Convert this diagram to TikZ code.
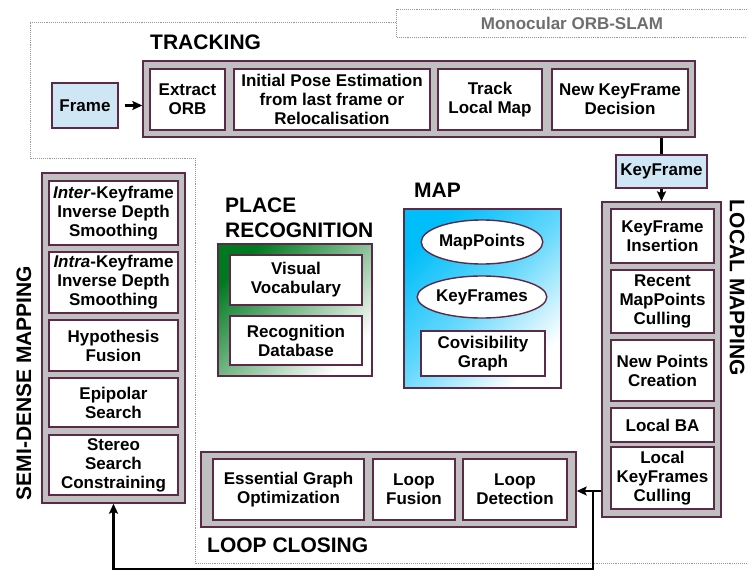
\documentclass[tikz,border=0pt]{standalone}
\usepackage{fontspec}
\setmainfont{Liberation Sans}
\usetikzlibrary{arrows.meta,shapes.geometric,calc}
\definecolor{bord}{RGB}{92,42,72}
\definecolor{boxgray}{RGB}{192,192,192}
\definecolor{framebl}{RGB}{207,231,245}
\definecolor{pgreen}{RGB}{0,122,32}
\definecolor{mapcyan}{RGB}{0,190,250}
\definecolor{dotgray}{RGB}{150,150,150}
\definecolor{txtgray}{RGB}{110,110,110}
\begin{document}
\begin{tikzpicture}[x=1pt,y=-1pt,
  gbox/.style={draw=bord, fill=boxgray, line width=1.4pt, inner sep=0pt},
  wbox/.style={draw=bord, fill=white, line width=1.4pt, inner sep=1pt, align=center,
     font=\fontsize{17}{19}\selectfont\bfseries},
  ttl/.style={font=\fontsize{21}{25}\selectfont\bfseries, inner sep=0pt},
  arr/.style={line width=2.5pt, -{Stealth[length=10pt,width=9pt,inset=2pt]}},
  ln/.style={line width=2.5pt},
  dots/.style={draw=dotgray, densely dotted, line width=0.9pt}
]
\useasboundingbox (0,0) rectangle (747,570);

% outline of ORB-SLAM
\draw[dots] (396,22) -- (30,22) -- (30,158) -- (195,158) -- (195,563) -- (747,563);
\draw[dots] (747,9) -- (396,9) -- (396,37) -- (747,37);
\node[font=\fontsize{17}{19}\selectfont\bfseries, text=txtgray] (mono) at (572,23) {Monocular ORB-SLAM};

% TRACKING
\node[ttl, anchor=west] (ttrack) at (150,42) {TRACKING};
\node[gbox, minimum width=552pt, minimum height=76pt] (track) at (419,99) {};
\node[wbox, minimum width=75pt, minimum height=61pt] (orb) at (187.5,99.5) {Extract\\ORB};
\node[wbox, minimum width=196pt, minimum height=61pt] (pose) at (332,99.5) {Initial Pose Estimation\\from last frame or\\Relocalisation};
\node[wbox, minimum width=104pt, minimum height=61pt] (tlm) at (490,99.5) {Track\\Local Map};
\node[wbox, minimum width=136pt, minimum height=61pt] (nkd) at (620,99.5) {New KeyFrame\\Decision};
\node[wbox, fill=framebl, minimum width=66pt, minimum height=45pt] (frame) at (85,105.5) {Frame};
\node[wbox, fill=framebl, minimum width=91pt, minimum height=33pt] (kf) at (661.5,171.5) {KeyFrame};

% LOCAL MAPPING
\node[gbox, minimum width=119pt, minimum height=315pt] (lm) at (661.5,359.5) {};
\node[wbox, minimum width=103pt, minimum height=54pt] (kfi) at (662.5,236) {KeyFrame\\Insertion};
\node[wbox, minimum width=103pt, minimum height=63pt] (rmc) at (662.5,301.5) {Recent\\MapPoints\\Culling};
\node[wbox, minimum width=103pt, minimum height=61pt] (npc) at (662.5,370.5) {New Points\\Creation};
\node[wbox, minimum width=103pt, minimum height=34pt] (lba) at (662.5,425) {Local BA};
\node[wbox, minimum width=103pt, minimum height=62pt] (lkc) at (662.5,478) {Local\\KeyFrames\\Culling};
\node[ttl, rotate=-90] (tlm2) at (737,288) {LOCAL MAPPING};

% SEMI-DENSE MAPPING
\node[gbox, minimum width=143pt, minimum height=330pt] (semi) at (113.5,338) {};
\node[wbox, minimum width=129pt, minimum height=64pt] (inter) at (113.5,213) {\textit{Inter}-Keyframe\\Inverse Depth\\Smoothing};
\node[wbox, minimum width=129pt, minimum height=61pt] (intra) at (113.5,282.5) {\textit{Intra}-Keyframe\\Inverse Depth\\Smoothing};
\node[wbox, minimum width=129pt, minimum height=51pt] (hyp) at (113.5,345.5) {Hypothesis\\Fusion};
\node[wbox, minimum width=129pt, minimum height=49pt] (epi) at (113.5,402.5) {Epipolar\\Search};
\node[wbox, minimum width=129pt, minimum height=60pt] (ster) at (113.5,465) {Stereo\\Search\\Constraining};
\node[ttl, rotate=90] (tsemi) at (24,383) {SEMI-DENSE MAPPING};

% PLACE RECOGNITION
\node[ttl, anchor=west, align=left] (tpr) at (225,218) {PLACE\\RECOGNITION};
\node[draw=bord, line width=1.4pt, top color=pgreen, bottom color=white, middle color=pgreen!50!white, shading angle=45,
      minimum width=154pt, minimum height=132pt, inner sep=0pt] (pr) at (295,310) {};
\node[wbox, minimum width=132pt, minimum height=50pt] (vv) at (296,280) {Visual\\Vocabulary};
\node[wbox, minimum width=132pt, minimum height=49pt] (rd) at (296,340.5) {Recognition\\Database};

% MAP
\node[ttl, anchor=west] (tmap) at (414,190) {MAP};
\node[draw=bord, line width=1.4pt, top color=mapcyan, bottom color=white, middle color=mapcyan!60!white, shading angle=45,
      minimum width=157pt, minimum height=179pt, inner sep=0pt] (map) at (482.5,298.5) {};
\node[wbox, ellipse, minimum width=120pt, minimum height=44pt, inner sep=0pt] (mp) at (482,242) {MapPoints};
\node[wbox, ellipse, minimum width=120pt, minimum height=42pt, inner sep=0pt] (kfs) at (482,297) {KeyFrames};
\node[wbox, minimum width=124pt, minimum height=45pt] (cov) at (483,353.5) {Covisibility\\Graph};

% LOOP CLOSING
\node[gbox, minimum width=375pt, minimum height=75pt] (loop) at (388.5,489.5) {};
\node[wbox, minimum width=151pt, minimum height=61pt] (ego) at (288.5,489.5) {Essential Graph\\Optimization};
\node[wbox, minimum width=82pt, minimum height=61pt] (lf) at (414,489.5) {Loop\\Fusion};
\node[wbox, minimum width=104pt, minimum height=61pt] (ld) at (515,489.5) {Loop\\Detection};
\node[ttl, anchor=west] (tlc) at (207,545) {LOOP CLOSING};

% connectors
\draw[arr] ([xshift=6pt]frame.east) -- (frame.east -| track.west);
\draw[ln] (kf.north |- track.south) -- (kf.north);
\draw[arr] (kf.south) -- (lm.north -| kf.south);
\coordinate (jn) at (593,491);
\draw[arr] (lm.west |- jn) -- (loop.east |- jn);
\coordinate (bot) at (593,569);
\draw[arr] (jn) -- (bot) -| (semi.south);
\end{tikzpicture}
\end{document}
